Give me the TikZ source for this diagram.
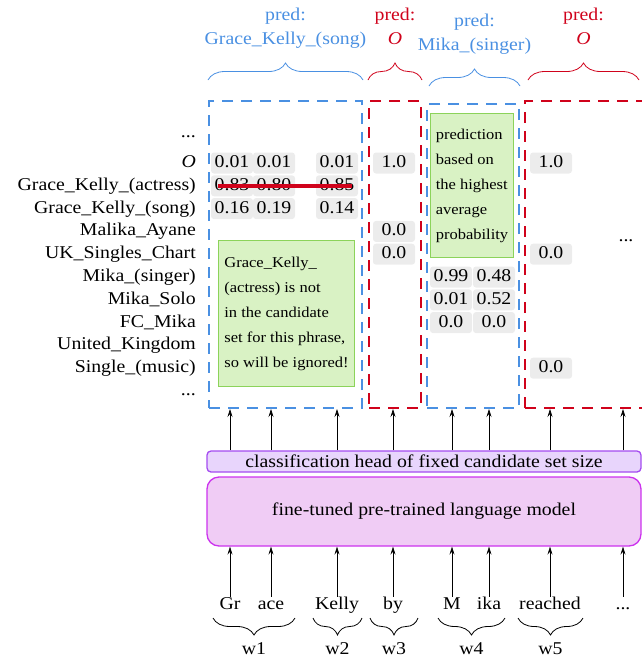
\documentclass[tikz,border=0pt]{standalone}
\usepackage{fontspec}
\setmainfont[FakeStretch=1.1]{Liberation Serif}
\usetikzlibrary{arrows.meta,positioning,calc,decorations.pathreplacing}
\definecolor{predblue}{RGB}{74,144,226}
\definecolor{predred}{RGB}{208,2,27}
\definecolor{notegreen}{RGB}{217,242,196}
\definecolor{notegreenline}{RGB}{140,211,90}
\definecolor{headfill}{RGB}{232,213,252}
\definecolor{headline}{RGB}{164,75,240}
\definecolor{lmfill}{RGB}{240,204,245}
\definecolor{lmline}{RGB}{204,51,238}
\newcommand{\tokdots}{...}
\tikzset{
  cand/.style={anchor=east,inner sep=0pt,text height=12.5pt,text depth=3.5pt},
  prob/.style={fill=gray!15,rounded corners=3pt,inner sep=0pt,minimum width=42pt,
               minimum height=21pt,text height=12.5pt,text depth=3.5pt},
  spanbox/.style={draw,line width=2pt,dash pattern=on 11pt off 8pt,anchor=north west,inner sep=0pt},
  note/.style={draw=notegreenline,fill=notegreen,line width=1pt,align=left,inner sep=4pt,
               anchor=north west,font=\fontsize{15}{25}\selectfont},
  headbox/.style={draw=headline,fill=headfill,line width=1.3pt,rounded corners=4pt,inner sep=0pt},
  lmbox/.style={draw=lmline,fill=lmfill,line width=1.3pt,rounded corners=12pt,inner sep=0pt},
  tok/.style={inner sep=0pt,text height=12.5pt,text depth=3.5pt},
  arr/.style={-{Stealth[length=8pt,width=5pt,inset=3pt]},semithick},
  brc/.style={decorate,decoration={brace,amplitude=17pt},line width=0.8pt},
  predlbl/.style={align=center,inner sep=0pt,font=\fontsize{18}{24}\selectfont},
  strike/.style={draw=predred,line width=3.5pt,shorten <=7pt,shorten >=6pt},
}

\begin{document}
\begin{tikzpicture}[x=1pt,y=-1pt,font=\fontsize{18}{21}\selectfont]
  \useasboundingbox (0,0) rectangle (642,662);
  \clip (0,0) rectangle (642,662);

  % candidate set
  \node[cand] (c0) at (196,133) {\tokdots};
  \foreach \name [count=\i] in {\textit{O},Grace\_Kelly\_(actress),Grace\_Kelly\_(song),Malika\_Ayane,
      UK\_Singles\_Chart,Mika\_(singer),Mika\_Solo,FC\_Mika,United\_Kingdom,Single\_(music)}
    \node[cand] (c\i) at (196,{163+22.8*(\i-1)}) {\name};
  \node[cand] (c11) at (196,391) {\tokdots};

  % phrase boxes
  \node[spanbox,draw=predblue,minimum width=153pt,minimum height=307pt] (sp1) at (208,100) {};
  \node[spanbox,draw=predred,minimum width=52pt,minimum height=307pt] (sp2) at (368,100) {};
  \node[spanbox,draw=predblue,minimum width=92pt,minimum height=304pt] (sp3) at (426,103) {};
  \node[spanbox,draw=predred,minimum width=126pt,minimum height=307pt] (sp4) at (524,100) {};

  % probabilities
  \foreach \r/\p/\q/\s in {1/0.01/0.01/0.01,2/0.83/0.80/0.85,3/0.16/0.19/0.14} {
    \node[prob] (a\r1) at (232,0 |- c\r) {\p};
    \node[prob] (a\r2) at (274,0 |- c\r) {\q};
    \node[prob] (a\r3) at (337,0 |- c\r) {\s};
  }
  \draw[strike] (a21.west) -- (a23.east);
  \node[prob] (b1) at (394,0 |- c1) {1.0};
  \node[prob] (b4) at (394,0 |- c4) {0.0};
  \node[prob] (b5) at (394,0 |- c5) {0.0};
  \foreach \r/\p/\q in {6/0.99/0.48,7/0.01/0.52,8/0.0/0.0} {
    \node[prob] (d\r1) at (451,0 |- c\r) {\p};
    \node[prob] (d\r2) at (494,0 |- c\r) {\q};
  }
  \node[prob] (e1) at (551,0 |- c1) {1.0};
  \node[prob] (e5) at (551,0 |- c5) {0.0};
  \node[prob] (e10) at (551,0 |- c10) {0.0};
  \node[tok] (edots) at (626,237) {\tokdots};

  % notes
  \node[note,minimum width=136pt,minimum height=146pt] (n1) at (218,240)
    {Grace\_Kelly\_\\(actress) is not\\in the candidate\\set for this phrase,\\so will be ignored!};
  \node[note,minimum width=83pt,minimum height=144pt] (n2) at (430,113)
    {prediction\\based on\\the highest\\average\\probability};

  % top braces and predictions
  \draw[brc,predblue] ([yshift=20pt]sp1.north west) -- ([yshift=20pt]sp1.north east) coordinate[midway] (m1);
  \draw[brc,predred] ([yshift=20pt]sp2.north west) -- ([yshift=20pt]sp2.north east) coordinate[midway] (m2);
  \draw[brc,predblue] ([shift={(3,-17)}]sp3.north west) -- ([shift={(0,-17)}]sp3.north east) coordinate[midway] (m3);
  \draw[brc,predred] ([shift={(4,-20)}]sp4.north west) -- ([shift={(-13,-20)}]sp4.north east) coordinate[midway] (m4);
  \node[predlbl,text=predblue,above=28pt of m1] (l1) {pred:\strut\\Grace\_Kelly\_(song)\strut};
  \node[predlbl,text=predred,above=28pt of m2] (l2) {pred:\strut\\\textit{O}\strut};
  \node[predlbl,text=predblue,above=28pt of m3] (l3) {pred:\strut\\Mika\_(singer)\strut};
  \node[predlbl,text=predred,above=28pt of m4] (l4) {pred:\strut\\\textit{O}\strut};

  % model
  \node[headbox,minimum width=434pt,minimum height=21pt] (head) at (424,461.5) {classification head of fixed candidate set size};
  \node[lmbox,minimum width=434pt,minimum height=69pt] (lm) at (424,511.5) {fine-tuned pre-trained language model};

  % tokens
  \foreach \t/\x [count=\k] in {Gr/230,ace/271,Kelly/337,by/393,M/452,ika/489,reached/550,\tokdots/623} {
    \node[tok] (t\k) at (\x,605) {\t};
    \draw[arr] (t\k.north) -- (t\k.north |- lm.south);
    \draw[arr] (t\k.north |- head.north) -- (t\k.north |- sp1.south);
  }

  % words
  \draw[brc] (295,618) -- (213,618) node[midway,below=24pt,inner sep=0pt] (w1) {w1};
  \draw[brc] (362,618) -- (313,618) node[midway,below=24pt,inner sep=0pt] (w2) {w2};
  \draw[brc] (418,618) -- (370,618) node[midway,below=24pt,inner sep=0pt] (w3) {w3};
  \draw[brc] (505,618) -- (438,618) node[midway,below=24pt,inner sep=0pt] (w4) {w4};
  \draw[brc] (583,618) -- (518,618) node[midway,below=24pt,inner sep=0pt] (w5) {w5};
\end{tikzpicture}
\end{document}
